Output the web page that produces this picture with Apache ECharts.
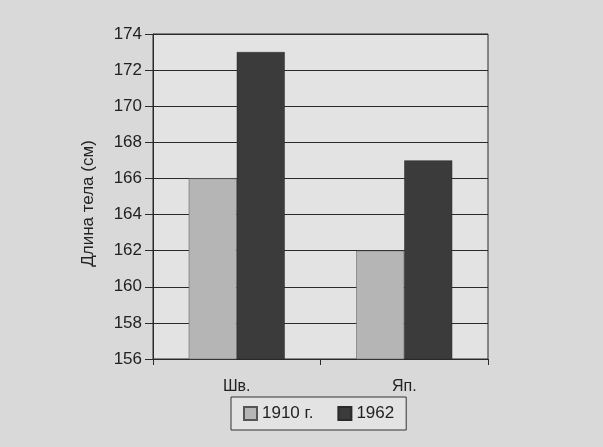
<!DOCTYPE html>
<html><head><meta charset="utf-8">
<script src="https://cdn.jsdelivr.net/npm/echarts@6/dist/echarts.min.js"></script>
<style>html,body{margin:0;padding:0;background:#d9d9d9}#c{width:603px;height:447px}</style>
</head><body><div id="c"></div>
<script>
const categories = ['Шв.', 'Яп.'];
const series1910 = [166, 162];
const series1962 = [173, 167];
const seriesNames = ['1910 г.', '1962'];
const yTicks = [156, 158, 160, 162, 164, 166, 168, 170, 172, 174];

const chart = echarts.init(document.getElementById('c'));
chart.setOption({
  backgroundColor: '#d9d9d9',
  textStyle: { fontFamily: 'Liberation Sans, Arial, sans-serif' },
  grid: { left: 153, right: 115, top: 34, bottom: 88, show: true, backgroundColor: '#e3e3e3', borderColor: '#2a2a2a', borderWidth: 1 },
  legend: {
    data: seriesNames,
    left: 231, top: 397,
    itemWidth: 13, itemHeight: 13, itemGap: 24,
    padding: [8, 12, 8, 12],
    borderColor: '#333', borderWidth: 1,
    backgroundColor: '#e3e3e3',
    textStyle: { fontSize: 17, color: '#222' },
    icon: 'rect'
  },
  xAxis: {
    type: 'category', data: categories,
    axisLine: { lineStyle: { color: '#2a2a2a', width: 1 } },
    axisTick: { show: true, length: 6, lineStyle: { color: '#2a2a2a' } },
    axisLabel: { fontSize: 16, color: '#222', margin: 20 }
  },
  yAxis: {
    type: 'value', min: yTicks[0], max: yTicks[yTicks.length - 1], interval: 2,
    name: 'Длина тела (см)', nameLocation: 'middle', nameGap: 56, nameRotate: 90,
    nameTextStyle: { fontSize: 17, color: '#222', padding: [0, 14, 0, 0] },
    axisLine: { show: true, lineStyle: { color: '#2a2a2a', width: 1 } },
    axisTick: { show: true, length: 8, lineStyle: { color: '#2a2a2a' } },
    axisLabel: { fontSize: 17, color: '#222', margin: 11 },
    splitLine: { show: true, lineStyle: { color: '#2a2a2a', width: 1 } }
  },
  series: [
    { name: seriesNames[0], type: 'bar', data: series1910, barWidth: 48, barGap: '0%',
      itemStyle: { color: '#b5b5b5', borderColor: '#555', borderWidth: 0.5 } },
    { name: seriesNames[1], type: 'bar', data: series1962, barWidth: 48,
      itemStyle: { color: '#3b3b3b', borderColor: '#2a2a2a', borderWidth: 0.5 } }
  ]
});
</script></body></html>
